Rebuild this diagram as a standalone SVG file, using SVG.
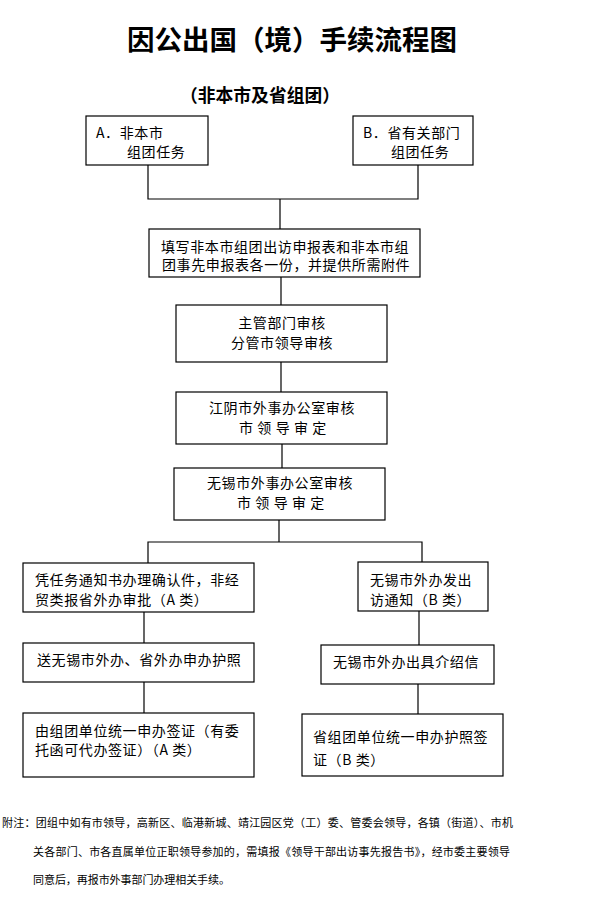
<svg xmlns="http://www.w3.org/2000/svg" width="593" height="921" viewBox="0 0 593 921">
<style>
.box{fill:#fff;stroke:#000;stroke-width:1.2}
.ln{fill:none;stroke:#000;stroke-width:1.2}
text{font-family:"Noto Sans CJK SC","Liberation Serif",sans-serif;fill:#000}
.t{font-size:14px;letter-spacing:0.6px}
.c{text-anchor:middle}
.n{font-size:11px}
</style>
<rect width="593" height="921" fill="#fff"/>
<text x="292" y="50" class="c" style="font-size:27.5px;font-weight:bold">因公出国（境）手续流程图</text>
<text x="260" y="102" class="c" style="font-size:17.8px;font-weight:bold">（非本市及省组团）</text>
<g id="connectors">
<path class="ln" d="M148,165V199H418V165M280,199V229"/>
<path class="ln" d="M281,277V305"/>
<path class="ln" d="M281,362V392"/>
<path class="ln" d="M282,444V468"/>
<path class="ln" d="M279,520V542M148,563V542H422V562"/>
<path class="ln" d="M144,612V643"/>
<path class="ln" d="M144,682V713"/>
<path class="ln" d="M419,611V645"/>
<path class="ln" d="M418,684V714"/>
</g>
<g id="nodeA"><rect class="box" x="86" y="116" width="122" height="49"/><text class="t" x="96" y="138">A．非本市</text><text class="t" x="127" y="157">组团任务</text></g>
<g id="nodeB"><rect class="box" x="353" y="116" width="120" height="49"/><text class="t" x="363" y="138">B．省有关部门</text><text class="t" x="391" y="157">组团任务</text></g>
<g id="node3"><rect class="box" x="149" y="229" width="271" height="48"/><text class="t" x="161" y="252">填写非本市组团出访申报表和非本市组</text><text class="t" x="162" y="270">团事先申报表各一份，并提供所需附件</text></g>
<g id="node4"><rect class="box" x="176" y="305" width="211" height="57"/><text class="t c" x="282" y="328">主管部门审核</text><text class="t c" x="282" y="348">分管市领导审核</text></g>
<g id="node5"><rect class="box" x="176" y="392" width="211" height="52"/><text class="t c" x="282" y="413">江阴市外事办公室审核</text><text class="t c" x="283" y="433">市 领 导 审 定</text></g>
<g id="node6"><rect class="box" x="174" y="468" width="211" height="52"/><text class="t c" x="280" y="488">无锡市外事办公室审核</text><text class="t c" x="281" y="508">市 领 导 审 定</text></g>
<g id="node7"><rect class="box" x="23" y="563" width="231" height="49"/><text class="t" x="35" y="585">凭任务通知书办理确认件，非经</text><text class="t" x="35" y="605">贸类报省外办审批（A 类）</text></g>
<g id="node8"><rect class="box" x="23" y="643" width="231" height="39"/><text class="t" x="37" y="665">送无锡市外办、省外办申办护照</text></g>
<g id="node9"><rect class="box" x="23" y="713" width="231" height="64"/><text class="t" x="35" y="736">由组团单位统一申办签证（有委</text><text class="t" x="35" y="755">托函可代办签证）（A 类）</text></g>
<g id="node10"><rect class="box" x="358" y="562" width="130" height="49"/><text class="t" x="370" y="585">无锡市外办发出</text><text class="t" x="370" y="605">访通知（B 类）</text></g>
<g id="node11"><rect class="box" x="321" y="645" width="173" height="39"/><text class="t" x="333" y="667">无锡市外办出具介绍信</text></g>
<g id="node12"><rect class="box" x="302" y="714" width="201" height="62"/><text class="t" x="313" y="742">省组团单位统一申办护照签</text><text class="t" x="313" y="765">证（B 类）</text></g>
<text class="n" x="2" y="827" textLength="511" lengthAdjust="spacing">附注：团组中如有市领导，高新区、临港新城、靖江园区党（工）委、管委会领导，各镇（街道）、市机</text>
<text class="n" x="33" y="856" textLength="477" lengthAdjust="spacing">关各部门、市各直属单位正职领导参加的，需填报《领导干部出访事先报告书》，经市委主要领导</text>
<text class="n" x="33" y="884" textLength="197" lengthAdjust="spacing">同意后，再报市外事部门办理相关手续。</text>
</svg>
